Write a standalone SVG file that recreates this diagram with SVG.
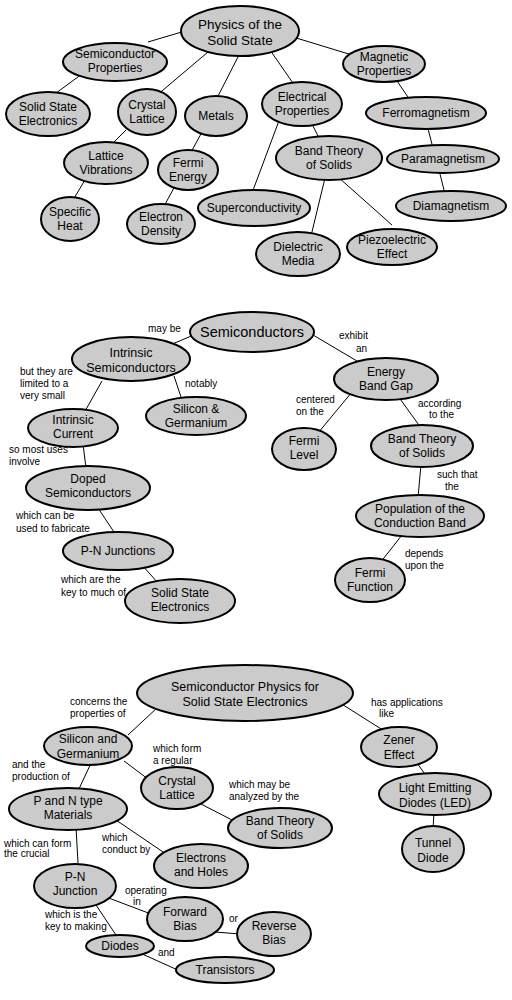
<svg xmlns="http://www.w3.org/2000/svg" width="512" height="1000" viewBox="0 0 512 1000">
<style>
.e{fill:#cbcbcb;stroke:#000;stroke-width:2}
.t{font-family:"Liberation Sans",Arial,sans-serif;font-size:12px;text-anchor:middle;fill:#000}
.h{font-size:13.5px}
.s{font-family:"Liberation Sans",Arial,sans-serif;font-size:10px;fill:#000}
#connectors line{stroke:#000;stroke-width:1}
</style>
<rect width="512" height="1000" fill="#fff"/>
<g id="connectors">
<line x1="185" y1="31" x2="148" y2="42"/>
<line x1="208" y1="52" x2="156" y2="96"/>
<line x1="240" y1="53" x2="216" y2="100"/>
<line x1="270" y1="50" x2="295" y2="86"/>
<line x1="293" y1="37" x2="352" y2="55"/>
<line x1="82" y1="74" x2="52" y2="96"/>
<line x1="395" y1="78" x2="410" y2="100"/>
<line x1="126" y1="130" x2="110" y2="146"/>
<line x1="85" y1="180" x2="73" y2="200"/>
<line x1="202" y1="132" x2="190" y2="154"/>
<line x1="175" y1="186" x2="163" y2="208"/>
<line x1="280" y1="118" x2="252" y2="193"/>
<line x1="311" y1="122" x2="320" y2="140"/>
<line x1="427" y1="125" x2="433" y2="148"/>
<line x1="439" y1="170" x2="445" y2="194"/>
<line x1="325" y1="178" x2="311" y2="236"/>
<line x1="338" y1="177" x2="392" y2="225"/>
<line x1="196" y1="334" x2="170" y2="345"/>
<line x1="174" y1="376" x2="182" y2="400"/>
<line x1="102" y1="381" x2="84" y2="413"/>
<line x1="83" y1="444" x2="86" y2="468"/>
<line x1="96" y1="505" x2="116" y2="535"/>
<line x1="142" y1="565" x2="158" y2="583"/>
<line x1="308" y1="332" x2="362" y2="364"/>
<line x1="352" y1="392" x2="318" y2="433"/>
<line x1="398" y1="396" x2="421" y2="428"/>
<line x1="421" y1="464" x2="418" y2="498"/>
<line x1="402" y1="535" x2="380" y2="563"/>
<line x1="158" y1="707" x2="128" y2="735"/>
<line x1="124" y1="761" x2="148" y2="779"/>
<line x1="197" y1="802" x2="236" y2="822"/>
<line x1="92" y1="761" x2="78" y2="791"/>
<line x1="116" y1="820" x2="166" y2="854"/>
<line x1="76" y1="827" x2="78" y2="863"/>
<line x1="106" y1="897" x2="151" y2="914"/>
<line x1="215" y1="932" x2="240" y2="934"/>
<line x1="94" y1="902" x2="118" y2="938"/>
<line x1="140" y1="953" x2="180" y2="971"/>
<line x1="340" y1="703" x2="386" y2="732"/>
<line x1="417" y1="763" x2="427" y2="777"/>
<line x1="434" y1="812" x2="433" y2="830"/>
</g>
<g id="labels">
<text class="s" x="148" y="332">may be</text>
<text class="s" x="20" y="375">but they are</text>
<text class="s" x="20" y="387">limited to a</text>
<text class="s" x="20" y="399">very small</text>
<text class="s" x="185" y="387">notably</text>
<text class="s" x="9" y="453">so most uses</text>
<text class="s" x="9" y="465">involve</text>
<text class="s" x="16" y="519">which can be</text>
<text class="s" x="16" y="532">used to fabricate</text>
<text class="s" x="61" y="583">which are the</text>
<text class="s" x="61" y="596">key to much of</text>
<text class="s" x="339" y="339">exhibit</text>
<text class="s" x="356" y="352">an</text>
<text class="s" x="296" y="403">centered</text>
<text class="s" x="296" y="415">on the</text>
<text class="s" x="418" y="407">according</text>
<text class="s" x="429" y="418">to the</text>
<text class="s" x="437" y="478">such that</text>
<text class="s" x="445" y="490">the</text>
<text class="s" x="405" y="557">depends</text>
<text class="s" x="405" y="569">upon the</text>
<text class="s" x="70" y="705">concerns the</text>
<text class="s" x="70" y="717">properties of</text>
<text class="s" x="153" y="752">which form</text>
<text class="s" x="153" y="764">a regular</text>
<text class="s" x="12" y="768">and the</text>
<text class="s" x="12" y="780">production of</text>
<text class="s" x="229" y="788">which may be</text>
<text class="s" x="229" y="800">analyzed by the</text>
<text class="s" x="371" y="706">has applications</text>
<text class="s" x="379" y="717">like</text>
<text class="s" x="4" y="847">which can form</text>
<text class="s" x="4" y="857">the crucial</text>
<text class="s" x="102" y="841">which</text>
<text class="s" x="102" y="853">conduct by</text>
<text class="s" x="125" y="894">operating</text>
<text class="s" x="133" y="905">in</text>
<text class="s" x="45" y="918">which is the</text>
<text class="s" x="45" y="930">key to making</text>
<text class="s" x="229" y="922">or</text>
<text class="s" x="158" y="956">and</text>
</g>
<g id="n-physics"><ellipse class="e" cx="240" cy="31" rx="59" ry="25"/><text class="t h" x="240" y="29">Physics of the</text><text class="t h" x="240" y="45">Solid State</text></g>
<g id="n-semiprops"><ellipse class="e" cx="115" cy="62" rx="52" ry="19"/><text class="t" x="115" y="58">Semiconductor</text><text class="t" x="115" y="72">Properties</text></g>
<g id="n-sse1"><ellipse class="e" cx="48" cy="114" rx="42" ry="22"/><text class="t" x="48" y="111">Solid State</text><text class="t" x="48" y="125">Electronics</text></g>
<g id="n-crystal1"><ellipse class="e" cx="147" cy="112" rx="29" ry="23"/><text class="t" x="147" y="109">Crystal</text><text class="t" x="147" y="123">Lattice</text></g>
<g id="n-metals"><ellipse class="e" cx="216" cy="116" rx="31" ry="20"/><text class="t" x="216" y="120">Metals</text></g>
<g id="n-electrical"><ellipse class="e" cx="302" cy="104" rx="40" ry="22"/><text class="t" x="302" y="101">Electrical</text><text class="t" x="302" y="115">Properties</text></g>
<g id="n-magnetic"><ellipse class="e" cx="384" cy="64" rx="41" ry="18"/><text class="t" x="384" y="61">Magnetic</text><text class="t" x="384" y="75">Properties</text></g>
<g id="n-ferro"><ellipse class="e" cx="426" cy="113" rx="60" ry="16"/><text class="t" x="426" y="117">Ferromagnetism</text></g>
<g id="n-latvib"><ellipse class="e" cx="106" cy="163" rx="42" ry="21"/><text class="t" x="106" y="160">Lattice</text><text class="t" x="106" y="174">Vibrations</text></g>
<g id="n-specheat"><ellipse class="e" cx="70" cy="219" rx="29" ry="22"/><text class="t" x="70" y="216">Specific</text><text class="t" x="70" y="230">Heat</text></g>
<g id="n-fermienergy"><ellipse class="e" cx="188" cy="170" rx="30" ry="20"/><text class="t" x="188" y="167">Fermi</text><text class="t" x="188" y="181">Energy</text></g>
<g id="n-edensity"><ellipse class="e" cx="161" cy="224" rx="34" ry="20"/><text class="t" x="161" y="221">Electron</text><text class="t" x="161" y="235">Density</text></g>
<g id="n-supercond"><ellipse class="e" cx="254" cy="208" rx="56" ry="18"/><text class="t" x="254" y="212">Superconductivity</text></g>
<g id="n-band1"><ellipse class="e" cx="329" cy="158" rx="53" ry="22"/><text class="t" x="329" y="155">Band Theory</text><text class="t" x="329" y="169">of Solids</text></g>
<g id="n-para"><ellipse class="e" cx="443" cy="159" rx="56" ry="14"/><text class="t" x="443" y="163">Paramagnetism</text></g>
<g id="n-dia"><ellipse class="e" cx="451" cy="206" rx="55" ry="15"/><text class="t" x="451" y="210">Diamagnetism</text></g>
<g id="n-dielectric"><ellipse class="e" cx="298" cy="254" rx="42" ry="22"/><text class="t" x="298" y="251">Dielectric</text><text class="t" x="298" y="265">Media</text></g>
<g id="n-piezo"><ellipse class="e" cx="392" cy="247" rx="45" ry="18"/><text class="t" x="392" y="244">Piezoelectric</text><text class="t" x="392" y="258">Effect</text></g>
<g id="n-semis"><ellipse class="e" cx="252" cy="332" rx="62" ry="20"/><text class="t" style="font-size:14.5px" x="252" y="337">Semiconductors</text></g>
<g id="n-intrinsic"><ellipse class="e" cx="131" cy="359" rx="59" ry="22"/><text class="t" style="font-size:12.5px" x="131" y="357">Intrinsic</text><text class="t" style="font-size:12.5px" x="131" y="372">Semiconductors</text></g>
<g id="n-sige"><ellipse class="e" cx="196" cy="416" rx="50" ry="19"/><text class="t" x="196" y="413">Silicon &amp;</text><text class="t" x="196" y="427">Germanium</text></g>
<g id="n-intcurrent"><ellipse class="e" cx="73" cy="428" rx="45" ry="19"/><text class="t" x="73" y="424">Intrinsic</text><text class="t" x="73" y="438">Current</text></g>
<g id="n-doped"><ellipse class="e" cx="88" cy="488" rx="62" ry="22"/><text class="t" x="88" y="483">Doped</text><text class="t" x="88" y="497">Semiconductors</text></g>
<g id="n-pnj2"><ellipse class="e" cx="118" cy="551" rx="55" ry="19"/><text class="t" x="118" y="555">P-N Junctions</text></g>
<g id="n-sse2"><ellipse class="e" cx="180" cy="601" rx="55" ry="22"/><text class="t" x="180" y="597">Solid State</text><text class="t" x="180" y="611">Electronics</text></g>
<g id="n-gap"><ellipse class="e" cx="386" cy="379" rx="52" ry="21"/><text class="t" x="386" y="376">Energy</text><text class="t" x="386" y="390">Band Gap</text></g>
<g id="n-fermilevel"><ellipse class="e" cx="304" cy="449" rx="32" ry="21"/><text class="t" x="304" y="445">Fermi</text><text class="t" x="304" y="459">Level</text></g>
<g id="n-band2"><ellipse class="e" cx="422" cy="446" rx="51" ry="21"/><text class="t" x="422" y="443">Band Theory</text><text class="t" x="422" y="457">of Solids</text></g>
<g id="n-pop"><ellipse class="e" cx="420" cy="516" rx="64" ry="21"/><text class="t" x="420" y="513">Population of the</text><text class="t" x="420" y="527">Conduction Band</text></g>
<g id="n-fermifunc"><ellipse class="e" cx="370" cy="580" rx="35" ry="22"/><text class="t" x="370" y="577">Fermi</text><text class="t" x="370" y="591">Function</text></g>
<g id="n-main3"><ellipse class="e" cx="245" cy="693" rx="108" ry="28"/><text class="t" style="font-size:12.5px" x="245" y="691">Semiconductor Physics for</text><text class="t" style="font-size:12.5px" x="245" y="706">Solid State Electronics</text></g>
<g id="n-silger"><ellipse class="e" cx="88" cy="746" rx="44" ry="19"/><text class="t" x="88" y="743">Silicon and</text><text class="t" x="88" y="758">Germanium</text></g>
<g id="n-crystal3"><ellipse class="e" cx="177" cy="788" rx="36" ry="21"/><text class="t" x="177" y="785">Crystal</text><text class="t" x="177" y="799">Lattice</text></g>
<g id="n-band3"><ellipse class="e" cx="280" cy="828" rx="52" ry="20"/><text class="t" x="280" y="825">Band Theory</text><text class="t" x="280" y="839">of Solids</text></g>
<g id="n-pnmat"><ellipse class="e" cx="68" cy="809" rx="59" ry="21"/><text class="t" x="68" y="805">P and N type</text><text class="t" x="68" y="819">Materials</text></g>
<g id="n-eh"><ellipse class="e" cx="201" cy="866" rx="47" ry="22"/><text class="t" x="201" y="862">Electrons</text><text class="t" x="201" y="876">and Holes</text></g>
<g id="n-pnj3"><ellipse class="e" cx="75" cy="886" rx="41" ry="22"/><text class="t" x="75" y="881">P-N</text><text class="t" x="75" y="895">Junction</text></g>
<g id="n-forward"><ellipse class="e" cx="185" cy="919" rx="38" ry="22"/><text class="t" x="185" y="916">Forward</text><text class="t" x="185" y="930">Bias</text></g>
<g id="n-reverse"><ellipse class="e" cx="274" cy="934" rx="37" ry="22"/><text class="t" x="274" y="930">Reverse</text><text class="t" x="274" y="944">Bias</text></g>
<g id="n-diodes"><ellipse class="e" cx="120" cy="946" rx="34" ry="11"/><text class="t" x="120" y="950">Diodes</text></g>
<g id="n-transistors"><ellipse class="e" cx="225" cy="970" rx="49" ry="13"/><text class="t" x="225" y="974">Transistors</text></g>
<g id="n-zener"><ellipse class="e" cx="399" cy="747" rx="38" ry="20"/><text class="t" x="399" y="744">Zener</text><text class="t" x="399" y="759">Effect</text></g>
<g id="n-led"><ellipse class="e" cx="435" cy="794" rx="56" ry="21"/><text class="t" x="435" y="792">Light Emitting</text><text class="t" x="435" y="807">Diodes (LED)</text></g>
<g id="n-tunnel"><ellipse class="e" cx="433" cy="849" rx="31" ry="23"/><text class="t" x="433" y="847">Tunnel</text><text class="t" x="433" y="862">Diode</text></g>
</svg>
